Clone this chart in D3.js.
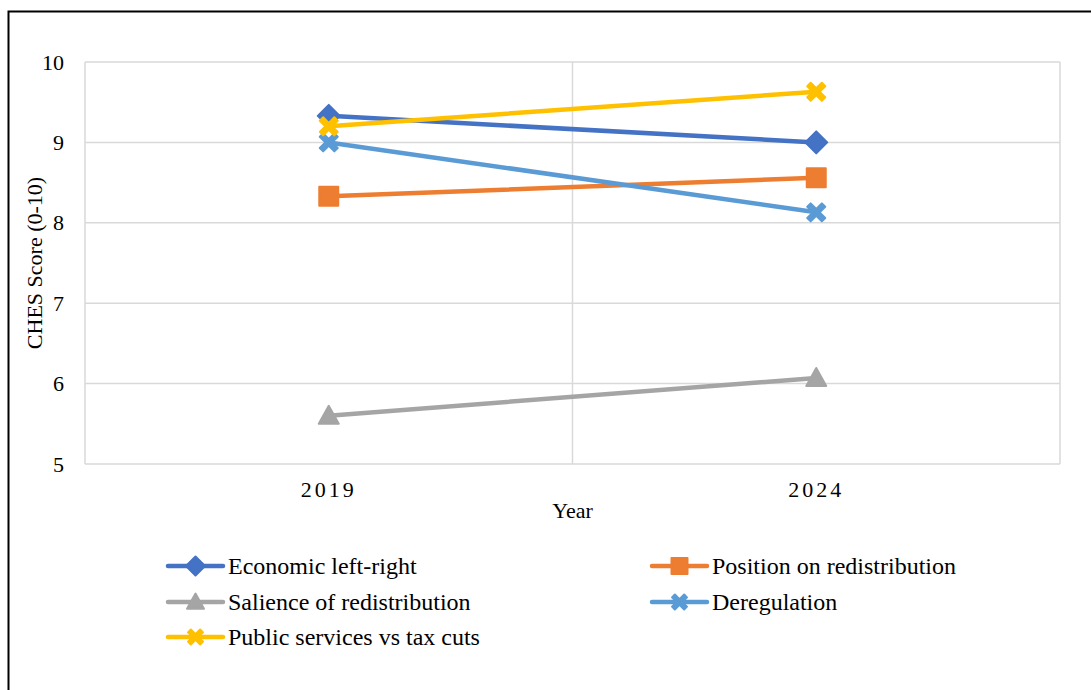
<!DOCTYPE html>
<html><head><meta charset="utf-8">
<script src="https://cdn.jsdelivr.net/npm/d3@7"></script>
<style>body{margin:0;background:#fff;}svg text{font-family:"Times New Roman","Liberation Serif","DejaVu Serif",serif;}</style>
</head><body>
<svg id="c" width="1091" height="690"></svg>
<script>
const years = ["2019", "2024"];
const seriesNames = ["Economic left-right", "Position on redistribution", "Salience of redistribution", "Deregulation", "Public services vs tax cuts"];
const economic = [9.33, 9.0];
const position = [8.33, 8.56];
const salience = [5.6, 6.07];
const deregulation = [9.0, 8.13];
const publicServices = [9.2, 9.63];
const yTicks = [5, 6, 7, 8, 9, 10];

const colors = ["#4472C4", "#ED7D31", "#A5A5A5", "#5B9BD5", "#FFC000"];
const shapes = ["diamond", "square", "triangle", "cross", "cross"];
const values = [economic, position, salience, deregulation, publicServices];
const FS = 22, LFS = 24;

const svg = d3.select("#c");
svg.append("rect").attr("x", 8.5).attr("y", 11.5).attr("width", 1200).attr("height", 800)
  .attr("fill", "none").attr("stroke", "#000").attr("stroke-width", 2);

const L = 85, R = 1060, T = 62, B = 464;
const x = d3.scaleBand().domain(years).range([L, R]);
const y = d3.scaleLinear().domain([5, 10]).range([B, T]);

svg.append("g").selectAll("line").data(yTicks).join("line")
  .attr("x1", L).attr("x2", R).attr("y1", d => y(d)).attr("y2", d => y(d))
  .attr("stroke", "#d9d9d9").attr("stroke-width", 1.5);
const vb = [L, ...years.map(d => x(d) + x.bandwidth())];
svg.append("g").selectAll("line").data(vb).join("line")
  .attr("x1", d => d).attr("x2", d => d).attr("y1", T).attr("y2", B)
  .attr("stroke", "#d9d9d9").attr("stroke-width", 1.5);

const yAxis = d3.axisLeft(y).tickValues(yTicks).tickSize(0).tickPadding(0).tickFormat(d3.format("d"));
const gy = svg.append("g").attr("transform", `translate(${L - 21},0)`).call(yAxis);
gy.attr("font-family", null).attr("font-size", null);
gy.select(".domain").remove();
gy.selectAll("text").attr("font-size", FS).attr("fill", "#000").attr("dy", "0.32em");

const xAxis = d3.axisBottom(x).tickSize(0).tickPadding(0);
const gx = svg.append("g").attr("transform", `translate(0,${B + 17})`).call(xAxis);
gx.attr("font-family", null).attr("font-size", null);
gx.select(".domain").remove();
gx.selectAll("text").attr("font-size", FS).attr("fill", "#000")
  .attr("letter-spacing", "3px").attr("dy", "0.71em");

svg.append("text").attr("x", (L + R) / 2).attr("y", 518).attr("text-anchor", "middle")
  .attr("font-size", FS).text("Year");
svg.append("text").attr("transform", `translate(42,${(T + B) / 2}) rotate(-90)`).attr("text-anchor", "middle")
  .attr("font-size", FS).text("CHES Score (0-10)");

function markerPath(shape, s) {
  const h = s / 2;
  if (shape === "diamond") return `M0,${-h}L${h},0L0,${h}L${-h},0Z`;
  if (shape === "square") return `M${-h},${-h}H${h}V${h}H${-h}Z`;
  if (shape === "triangle") return `M0,${-h}L${h},${h * 0.8}L${-h},${h * 0.8}Z`;
  const a = h, w = h * 0.38;
  return `M${-a},${-a + w}L${-a + w},${-a}L0,${-w}L${a - w},${-a}L${a},${-a + w}L${w},0L${a},${a - w}L${a - w},${a}L0,${w}L${-a + w},${a}L${-a},${a - w}L${-w},0Z`;
}

const cx = d => x(d) + x.bandwidth() / 2;
const line = d3.line().x(d => cx(d[0])).y(d => y(d[1]));

values.forEach((vals, i) => {
  const pts = years.map((yr, j) => [yr, vals[j]]);
  const g = svg.append("g");
  g.append("path").datum(pts).attr("d", line).attr("fill", "none")
    .attr("stroke", colors[i]).attr("stroke-width", 4.5).attr("stroke-linecap", "round");
  const sz = shapes[i] === "diamond" ? 22 : (shapes[i] === "square" ? 19 : (shapes[i] === "triangle" ? 20 : 18));
  g.selectAll("path.m").data(pts).join("path").attr("class", "m")
    .attr("transform", d => `translate(${cx(d[0])},${y(d[1])})`)
    .attr("d", markerPath(shapes[i], sz)).attr("fill", colors[i])
    .attr("stroke", colors[i]).attr("stroke-width", 2).attr("stroke-linejoin", "round");
});

const legPos = [[168, 566], [652, 566], [168, 602], [652, 602], [168, 637]];
seriesNames.forEach((name, i) => {
  const [lx, ly] = legPos[i];
  const g = svg.append("g");
  g.append("line").attr("x1", lx).attr("x2", lx + 55).attr("y1", ly).attr("y2", ly)
    .attr("stroke", colors[i]).attr("stroke-width", 4.5).attr("stroke-linecap", "round");
  const sz = shapes[i] === "diamond" ? 19 : (shapes[i] === "square" ? 16 : (shapes[i] === "triangle" ? 17 : 15));
  g.append("path").attr("transform", `translate(${lx + 27.5},${ly})`).attr("d", markerPath(shapes[i], sz))
    .attr("fill", colors[i]).attr("stroke", colors[i]).attr("stroke-width", 2).attr("stroke-linejoin", "round");
  g.append("text").attr("x", lx + 60).attr("y", ly).attr("dy", "0.35em").attr("font-size", LFS).text(name);
});
</script>
</body></html>
